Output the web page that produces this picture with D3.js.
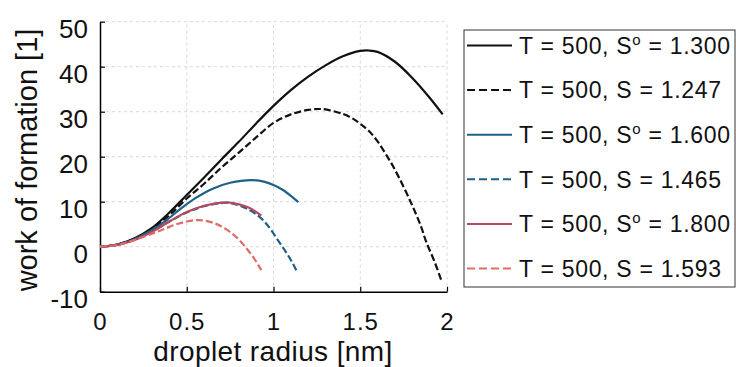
<!DOCTYPE html>
<html>
<head>
<meta charset="utf-8">
<script src="https://cdn.jsdelivr.net/npm/d3@7"></script>
<style>
  html, body { margin: 0; padding: 0; background: #fff; }
  svg { display: block; font-family: "Liberation Sans", Arial, sans-serif; }
</style>
</head>
<body>
<svg id="chart" width="736" height="367"></svg>
<script>
// ---------- data ----------
const xTicks = [0, 0.5, 1, 1.5, 2];
const yTicks = [-10, 0, 10, 20, 30, 40, 50];

const r1 = [0, 0.1, 0.2, 0.3, 0.4, 0.5, 0.6, 0.7, 0.8, 0.9, 1.0, 1.1, 1.2, 1.3, 1.4, 1.5, 1.55, 1.6, 1.7, 1.8, 1.9, 1.975];
const w1 = [0, 0.5, 1.9, 4.2, 7.6, 11.5, 15.4, 19.4, 23.3, 27.4, 31.3, 34.8, 37.8, 40.3, 42.3, 43.5, 43.6, 43.3, 41.1, 37.5, 33.1, 29.4];

const r2 = [0, 0.1, 0.2, 0.3, 0.4, 0.5, 0.6, 0.7, 0.8, 0.9, 1.0, 1.1, 1.2, 1.26, 1.3, 1.4, 1.46, 1.5, 1.55, 1.6, 1.65, 1.7, 1.79, 1.85, 1.88, 1.93, 1.97];
const w2 = [0, 0.5, 1.8, 4.0, 7.0, 10.7, 14.0, 17.6, 20.9, 24.3, 27.5, 29.4, 30.4, 30.6, 30.5, 29.5, 28.4, 27.3, 25.7, 23.4, 20.4, 17.1, 10.0, 4.5, 1.1, -3.5, -7.8];

const r3 = [0, 0.1, 0.2, 0.3, 0.38, 0.46, 0.55, 0.65, 0.75, 0.874, 0.95, 1.0, 1.05, 1.1, 1.143];
const w3 = [0, 0.4, 1.7, 3.7, 5.8, 8.3, 10.8, 12.9, 14.2, 14.8, 14.4, 13.7, 12.7, 11.3, 9.9];

const r4 = [0, 0.1, 0.2, 0.3, 0.4, 0.5, 0.6, 0.7, 0.75, 0.845, 0.94, 1.037, 1.09, 1.137];
const w4 = [0, 0.4, 1.6, 3.4, 5.6, 7.6, 9.0, 9.7, 9.7, 8.5, 5.9, 0.8, -2.3, -5.6];

const r5 = [0, 0.1, 0.2, 0.3, 0.4, 0.5, 0.6, 0.7, 0.75, 0.85, 0.93];
const w5 = [0, 0.4, 1.5, 3.3, 5.6, 7.7, 9.1, 9.8, 9.8, 8.8, 6.9];

const r6 = [0, 0.1, 0.2, 0.3, 0.35, 0.4, 0.45, 0.5, 0.557, 0.6, 0.653, 0.7, 0.749, 0.8, 0.845, 0.89, 0.93];
const w6 = [0, 0.4, 1.5, 2.9, 3.6, 4.4, 5.1, 5.6, 5.9, 5.8, 5.3, 4.5, 3.3, 1.6, -0.4, -2.7, -5.2];

const legendPrefix = ["T = 500, S", "T = 500, S", "T = 500, S", "T = 500, S", "T = 500, S", "T = 500, S"];
const legendSuper  = ["o", "", "o", "", "o", ""];
const legendValue  = ["1.300", "1.247", "1.600", "1.465", "1.800", "1.593"];

const xTitle = "droplet radius [nm]";
const yTitle = "work of formation [1]";

// ---------- build ----------
const seriesR = [r1, r2, r3, r4, r5, r6];
const seriesW = [w1, w2, w3, w4, w5, w6];
const colors = ["#111111", "#111111", "#1f6089", "#1f6089", "#b7495f", "#de6d66"];
const dashes = [null, "7,3", null, "7,3", null, "7,3"];

const svg = d3.select("#chart");
const x = d3.scaleLinear().domain([0, 2]).range([100, 447]);
const y = d3.scaleLinear().domain([-10, 50]).range([291.7, 21.7]);

// grid
const grid = svg.append("g");
grid.selectAll("line.gx").data(xTicks.slice(1)).enter().append("line")
  .attr("x1", d => x(d)).attr("x2", d => x(d))
  .attr("y1", y(-10)).attr("y2", y(50))
  .attr("stroke", "#d9d9d9").attr("stroke-width", 1).attr("stroke-dasharray", "3,3");
grid.selectAll("line.gy").data(yTicks.slice(1)).enter().append("line")
  .attr("x1", x(0)).attr("x2", x(2))
  .attr("y1", d => y(d)).attr("y2", d => y(d))
  .attr("stroke", "#d9d9d9").attr("stroke-width", 1).attr("stroke-dasharray", "3,3");

// axes
const fmt = d => String(d);
const xAxis = d3.axisBottom(x).tickValues(xTicks).tickSizeInner(-5).tickSizeOuter(0).tickFormat(fmt);
const gx = svg.append("g").attr("transform", `translate(0,${y(-10)})`).call(xAxis);
gx.select(".domain").attr("stroke", "#000").attr("stroke-width", 1.5);
gx.selectAll(".tick line").attr("stroke", "#000").attr("stroke-width", 1.2);
gx.selectAll(".tick text").attr("font-size", 24).attr("fill", "#111").attr("letter-spacing", 1)
  .attr("y", 38.5).attr("dy", null).attr("font-family", "Liberation Sans, Arial, sans-serif");

const yAxis = d3.axisLeft(y).tickValues(yTicks).tickSizeInner(-5).tickSizeOuter(0).tickFormat(fmt);
const gy = svg.append("g").attr("transform", `translate(${x(0)},0)`).call(yAxis);
gy.select(".domain").attr("stroke", "#000").attr("stroke-width", 1.5);
gy.selectAll(".tick line").attr("stroke", "#000").attr("stroke-width", 1.2);
gy.selectAll(".tick text").attr("font-size", 26).attr("fill", "#111")
  .attr("x", -12).attr("dy", null).attr("y", 15.5).attr("font-family", "Liberation Sans, Arial, sans-serif");

// titles
svg.append("text").attr("x", 273).attr("y", 361).attr("text-anchor", "middle")
  .attr("font-size", 28).attr("letter-spacing", 0.4).attr("fill", "#111").text(xTitle);
svg.append("text").attr("transform", "translate(37,160) rotate(-90)").attr("text-anchor", "middle")
  .attr("font-size", 29).attr("fill", "#111").text(yTitle);

// curves
const line = d3.line().x(d => x(d[0])).y(d => y(d[1])).curve(d3.curveCatmullRom.alpha(0.5));
seriesR.forEach((rs, i) => {
  const pts = rs.map((r, k) => [r, seriesW[i][k]]);
  svg.append("path").datum(pts).attr("d", line)
    .attr("fill", "none").attr("stroke", colors[i]).attr("stroke-width", 2.2)
    .attr("stroke-dasharray", dashes[i]);
});

// legend
const lg = svg.append("g");
lg.append("rect").attr("x", 464).attr("y", 30).attr("width", 271).attr("height", 257)
  .attr("fill", "#fff").attr("stroke", "#333").attr("stroke-width", 1);
legendPrefix.forEach((p, i) => {
  const cy = 45.5 + i * 44.6;
  lg.append("line").attr("x1", 467).attr("x2", 512).attr("y1", cy).attr("y2", cy)
    .attr("stroke", colors[i]).attr("stroke-width", 2).attr("stroke-dasharray", dashes[i] ? "8,4" : null);
  const t = lg.append("text").attr("x", 519).attr("y", cy + 8.3).attr("font-size", 23)
    .attr("letter-spacing", 0.7).attr("fill", "#111");
  t.append("tspan").text(p);
  if (legendSuper[i]) {
    t.append("tspan").attr("font-size", 15).attr("dy", -9).text(legendSuper[i]);
    t.append("tspan").attr("dy", 9).text(" = " + legendValue[i]);
  } else {
    t.append("tspan").text(" = " + legendValue[i]);
  }
});
</script>
</body>
</html>
